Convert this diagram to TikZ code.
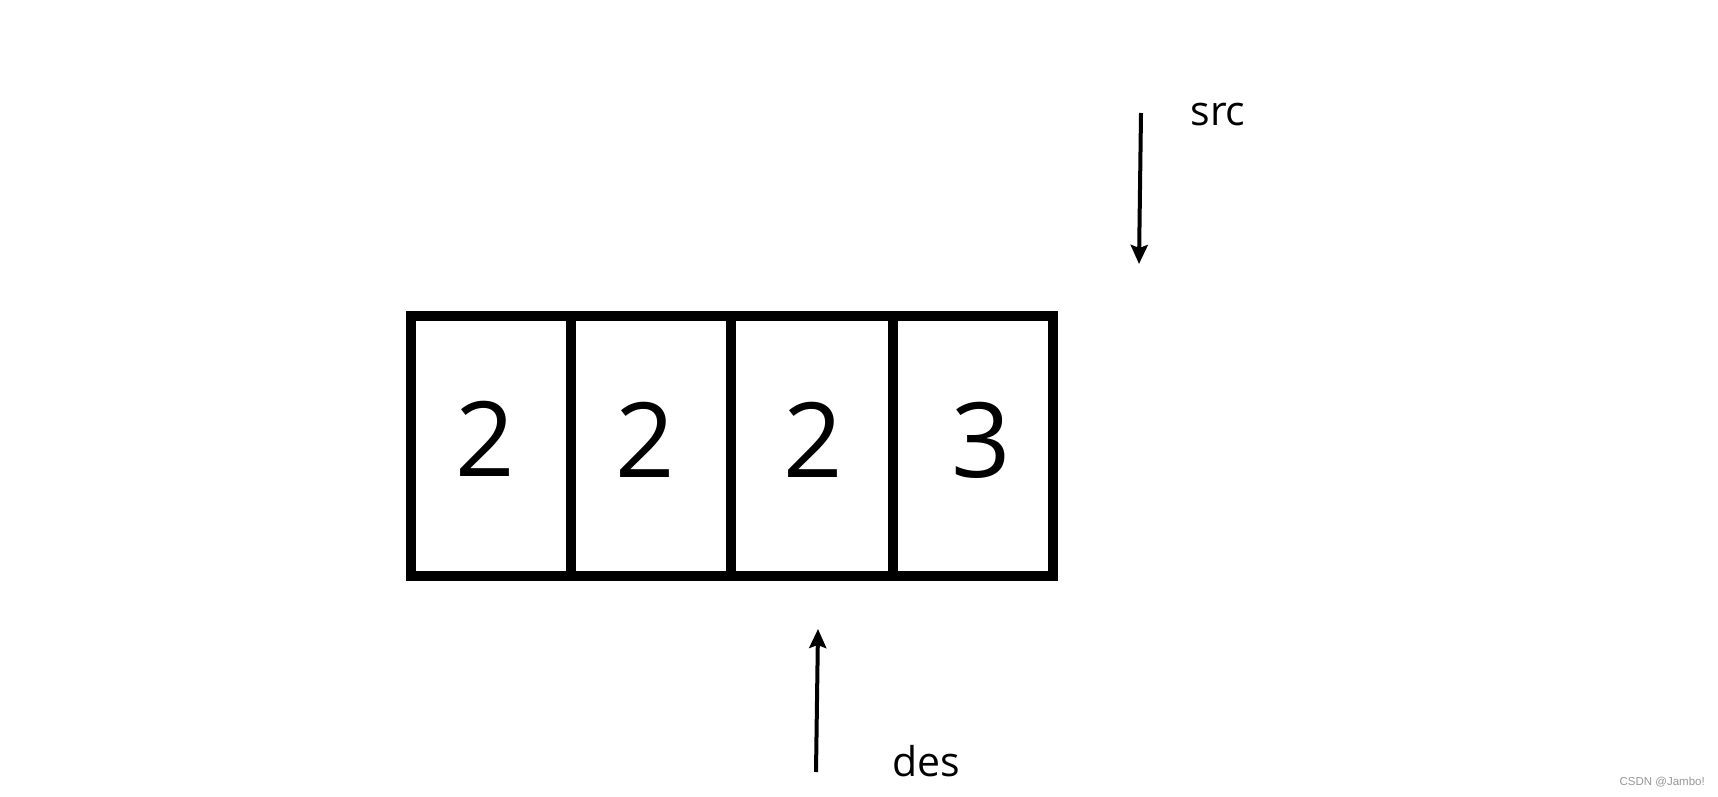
\documentclass[tikz,border=0pt]{standalone}
\usepackage{fontspec}
\setmainfont{Open Sans}
\newfontfamily\wmfont{Liberation Sans}
\usetikzlibrary{arrows.meta}
\definecolor{wmgray}{RGB}{150,150,150}
\begin{document}
\begin{tikzpicture}[x=1pt,y=-1pt,
  cellbox/.style={draw=black,line width=10pt,rectangle,inner sep=0pt,minimum height=260pt},
  digit/.style={inner sep=0pt,font=\fontsize{104}{110}\selectfont},
  lbl/.style={inner sep=0pt,anchor=base,font=\fontsize{41}{46}\selectfont},
  ptr/.style={line width=4pt,-{Stealth[length=19pt,width=17pt,inset=3pt]}}]
\useasboundingbox (0,0) rectangle (1718,797);
% cells
\node[cellbox,minimum width=160pt] (c1) at (491,446) {};
\node[cellbox,minimum width=160pt] (c2) at (651,446) {};
\node[cellbox,minimum width=162pt] (c3) at (812,446) {};
\node[cellbox,minimum width=160pt] (c4) at (973,446) {};
% digits
\node[digit] (d1) at (485.5,438.5) {2};
\node[digit] (d2) at (645.5,439.5) {2};
\node[digit] (d3) at (813,439.5) {2};
\node[digit] (d4) at (981.5,440) {3};
% src pointer
\coordinate (srcS) at (1141,113);
\coordinate (srcE) at (1139,264);
\draw[ptr] (srcS) -- (srcE);
\node[lbl] (src) at (1218,126) {src};
% des pointer
\coordinate (desS) at (816,772);
\coordinate (desE) at (818,629);
\draw[ptr] (desS) -- (desE);
\node[lbl] (des) at (926,776.7) {des};
% watermark
\node[inner sep=0pt,anchor=base east,text=wmgray,font=\wmfont\fontsize{11.5}{13}\selectfont] (wm) at (1705,785.5) {CSDN @Jambo!};
\end{tikzpicture}
\end{document}
